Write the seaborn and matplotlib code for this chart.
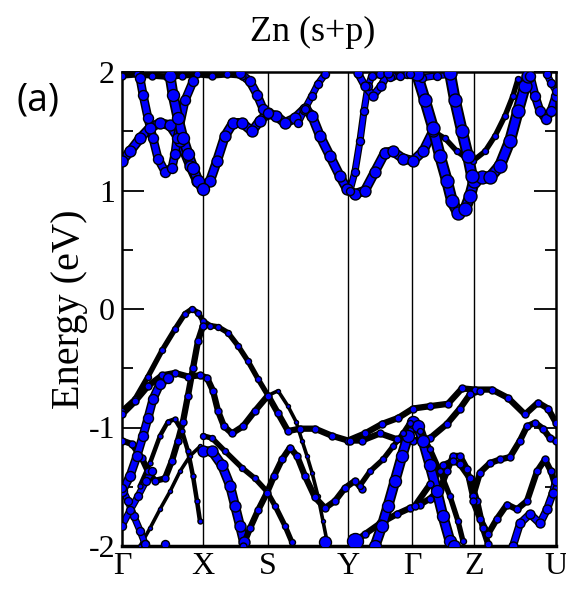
import numpy as np
import pandas as pd
import matplotlib
matplotlib.use("Agg")
import matplotlib.pyplot as plt
import seaborn as sns

# high-symmetry path
hs_k = [0.00, 0.81, 1.46, 2.26, 2.90, 3.52, 4.34]
hs_labels = ["Γ", "X", "S", "Y", "Γ", "Z", "U"]

# ---- conduction bands (k, E in eV) ----
cb1_k = [0.00, 0.08, 0.18, 0.28, 0.38, 0.48, 0.58, 0.68, 0.75, 0.81, 0.88, 0.95, 1.03, 1.11, 1.20, 1.30,
         1.38, 1.46, 1.54, 1.63, 1.73, 1.83, 1.90, 1.98, 2.08, 2.18, 2.25, 2.33, 2.43, 2.53, 2.63, 2.71,
         2.81, 2.91, 3.01, 3.11]
cb1_E = [1.25, 1.33, 1.44, 1.53, 1.57, 1.55, 1.42, 1.21, 1.08, 1.03, 1.08, 1.25, 1.46, 1.57, 1.57, 1.50,
         1.59, 1.65, 1.63, 1.57, 1.61, 1.69, 1.63, 1.46, 1.29, 1.12, 1.01, 0.97, 1.00, 1.16, 1.32, 1.33,
         1.27, 1.25, 1.33, 1.50]
cb1b_k = [3.11, 3.23, 3.35, 3.45, 3.51, 3.63, 3.73, 3.83, 3.91, 3.96]
cb1b_E = [1.50, 1.44, 1.33, 1.27, 1.25, 1.33, 1.46, 1.63, 1.80, 1.94]
cb2_k = [2.95, 3.03, 3.11, 3.18, 3.25, 3.30, 3.36, 3.43, 3.48, 3.52, 3.60, 3.68, 3.78, 3.88, 3.96, 4.03, 4.06]
cb2_E = [1.98, 1.76, 1.53, 1.29, 1.08, 0.91, 0.81, 0.84, 0.95, 1.08, 1.11, 1.11, 1.21, 1.42, 1.67, 1.88, 1.97]
cb3_k = [3.28, 3.33, 3.40, 3.46, 3.50]
cb3_E = [1.99, 1.76, 1.50, 1.29, 1.12]
cb4_k = [2.28, 2.33, 2.38, 2.42, 2.46, 2.50, 2.58, 2.68, 2.78, 2.88]
cb4_E = [1.00, 1.16, 1.42, 1.67, 1.88, 1.97, 1.98, 1.96, 1.97, 1.98]
cb5_k = [1.76, 1.83, 1.90, 1.96, 2.03]
cb5_E = [1.57, 1.69, 1.80, 1.90, 1.98]
cb6_k = [2.36, 2.43, 2.51, 2.59, 2.66]
cb6_E = [1.99, 1.88, 1.80, 1.88, 1.99]
cb7_k = [4.08, 4.13, 4.18, 4.24, 4.29, 4.34]
cb7_E = [1.97, 1.80, 1.67, 1.60, 1.67, 1.80]
cb7b_k = [4.25, 4.29, 4.34]
cb7b_E = [1.98, 1.91, 1.84]
cb8_k = [0.18, 0.21, 0.26, 0.31, 0.36, 0.43, 0.50, 0.53, 0.55, 0.63, 0.71]
cb8_E = [1.95, 1.81, 1.61, 1.44, 1.27, 1.16, 1.19, 1.31, 1.44, 1.76, 1.92]
cb9_k = [0.48, 0.51, 0.56, 0.61, 0.66, 0.71, 0.76, 0.81]
cb9_E = [1.97, 1.81, 1.61, 1.44, 1.31, 1.19, 1.08, 1.01]
cb10_k = [1.18, 1.28, 1.35, 1.41, 1.46]
cb10_E = [1.99, 1.92, 1.81, 1.69, 1.65]
top1_k = [0.00, 0.15, 0.30, 0.45, 0.60, 0.75, 0.90, 1.05, 1.20]
top1_E = [1.97, 1.98, 1.97, 1.96, 1.97, 1.98, 1.97, 1.98, 1.97]
top2_k = [2.70, 2.85, 3.00, 3.15, 3.30]
top2_E = [1.97, 1.98, 1.95, 1.97, 1.98]

# ---- valence bands ----
vb1_k = [0.00, 0.13, 0.26, 0.40, 0.53, 0.63, 0.70, 0.76, 0.81, 0.88, 0.96, 1.06, 1.16, 1.26, 1.36, 1.46]
vb1_E = [-0.86, -0.76, -0.57, -0.35, -0.17, -0.04, 0.00, -0.03, -0.10, -0.14, -0.15, -0.20, -0.31, -0.44,
         -0.59, -0.73]
vb1b_k = [1.46, 1.56, 1.66, 1.74, 1.80, 1.85, 1.90, 1.96, 2.01, 2.05]
vb1b_E = [-0.73, -0.69, -0.82, -0.95, -1.11, -1.24, -1.38, -1.58, -1.79, -1.96]
vb2_k = [0.00, 0.13, 0.26, 0.40, 0.53, 0.66, 0.78, 0.85, 0.91, 0.96, 1.02, 1.10, 1.21, 1.33, 1.46, 1.56,
         1.66, 1.78, 1.93, 2.10, 2.26, 2.43, 2.60, 2.76, 2.91, 3.08, 3.26, 3.40, 3.53, 3.70, 3.86, 4.03,
         4.16, 4.26, 4.34]
vb2_E = [-0.89, -0.78, -0.65, -0.56, -0.54, -0.57, -0.56, -0.58, -0.69, -0.86, -0.99, -1.05, -0.99, -0.86,
         -0.73, -0.88, -1.03, -1.01, -1.01, -1.07, -1.11, -1.05, -0.97, -0.92, -0.84, -0.82, -0.80, -0.67,
         -0.68, -0.68, -0.75, -0.89, -0.79, -0.84, -0.96]
vb3_k = [0.00, 0.10, 0.20, 0.26, 0.33, 0.43, 0.50, 0.56, 0.61, 0.66, 0.71, 0.76, 0.81]
vb3_E = [-1.11, -1.14, -1.26, -1.37, -1.45, -1.43, -1.28, -1.11, -0.95, -0.73, -0.50, -0.27, -0.14]
vb4_k = [2.28, 2.40, 2.58, 2.75, 2.91, 3.08, 3.25, 3.38, 3.48, 3.58]
vb4_E = [-1.11, -1.11, -1.05, -1.10, -1.11, -1.09, -0.97, -0.84, -0.72, -0.69]
vb5_k = [0.00, 0.08, 0.15, 0.21, 0.26, 0.31, 0.38, 0.46]
vb5_E = [-1.54, -1.41, -1.24, -1.07, -0.92, -0.76, -0.63, -0.58]
vb6_k = [0.18, 0.28, 0.38, 0.46, 0.53, 0.60, 0.66, 0.71, 0.75, 0.78]
vb6_E = [-1.49, -1.30, -1.07, -0.95, -0.93, -1.03, -1.20, -1.41, -1.62, -1.79]
vb7_k = [0.18, 0.28, 0.38, 0.48, 0.58, 0.68, 0.78]
vb7_E = [-2.00, -1.85, -1.69, -1.54, -1.37, -1.24, -1.16]
vb8_k = [0.00, 0.06, 0.12, 0.18, 0.23]
vb8_E = [-1.51, -1.62, -1.75, -1.87, -1.98]
vb9_k = [0.00, 0.08, 0.16, 0.24, 0.30]
vb9_E = [-1.83, -1.70, -1.58, -1.45, -1.37]
vb10_k = [0.81, 0.90, 1.03, 1.20, 1.33, 1.45, 1.53, 1.63, 1.70]
vb10_E = [-1.07, -1.09, -1.20, -1.34, -1.43, -1.54, -1.66, -1.83, -1.97]
vb11_k = [0.81, 0.90, 1.00, 1.08, 1.13, 1.18, 1.22]
vb11_E = [-1.20, -1.20, -1.32, -1.49, -1.66, -1.83, -1.97]
vb12_k = [1.21, 1.28, 1.36, 1.45, 1.52, 1.60, 1.68, 1.75, 1.83, 1.93, 2.03, 2.13, 2.23, 2.33, 2.40]
vb12_E = [-2.00, -1.85, -1.70, -1.55, -1.41, -1.27, -1.17, -1.24, -1.41, -1.59, -1.68, -1.62, -1.51,
          -1.45, -1.52]
vb13_k = [2.33, 2.43, 2.58, 2.75, 2.88, 2.98, 3.08, 3.18, 3.25, 3.31, 3.38, 3.45, 3.51]
vb13_E = [-1.96, -1.90, -1.81, -1.73, -1.68, -1.65, -1.60, -1.52, -1.37, -1.24, -1.24, -1.35, -1.58]
vb13b_k = [3.51, 3.58, 3.68, 3.78, 3.88, 3.98, 4.05, 4.13, 4.21, 4.28, 4.34]
vb13b_E = [-1.58, -1.38, -1.30, -1.27, -1.25, -1.11, -0.99, -0.96, -1.01, -1.09, -1.11]
vb14_k = [2.93, 3.08, 3.21, 3.31, 3.38, 3.48, 3.55, 3.61, 3.66]
vb14_E = [-1.66, -1.48, -1.32, -1.28, -1.31, -1.43, -1.62, -1.85, -1.98]
vb15_k = [2.53, 2.60, 2.66, 2.73, 2.80, 2.86, 2.91, 2.96, 3.01, 3.08, 3.15, 3.21, 3.28, 3.32]
vb15_E = [-2.00, -1.83, -1.66, -1.45, -1.24, -1.07, -0.95, -0.99, -1.11, -1.32, -1.54, -1.75, -1.96, -2.00]
vb16_k = [2.38, 2.48, 2.61, 2.71, 2.81, 2.88, 2.98, 3.08, 3.18, 3.28, 3.36, 3.41]
vb16_E = [-1.49, -1.37, -1.27, -1.16, -1.05, -0.96, -1.03, -1.18, -1.37, -1.58, -1.79, -1.96]
vb17_k = [3.51, 3.58, 3.66, 3.75, 3.85, 3.95, 4.05, 4.15, 4.23, 4.29, 4.34]
vb17_E = [-1.62, -1.77, -1.90, -1.77, -1.65, -1.69, -1.62, -1.37, -1.27, -1.37, -1.51]
vb18_k = [3.91, 3.98, 4.08, 4.18, 4.25, 4.31, 4.34]
vb18_E = [-2.00, -1.81, -1.73, -1.81, -1.69, -1.55, -1.45]

# Zn (s+p) projection weight per band (marker diameter, px)
bands = [
    (top1_k, top1_E, 7), (top2_k, top2_E, 8),
    (cb1_k, cb1_E, 11), (cb1b_k, cb1b_E, 6), (cb2_k, cb2_E, 13), (cb3_k, cb3_E, 13),
    (cb4_k, cb4_E, 8), (cb5_k, cb5_E, 8), (cb6_k, cb6_E, 9), (cb7_k, cb7_E, 10),
    (cb7b_k, cb7b_E, 8), (cb8_k, cb8_E, 10), (cb9_k, cb9_E, 12), (cb10_k, cb10_E, 10),
    (vb1_k, vb1_E, 6), (vb1b_k, vb1b_E, 4), (vb2_k, vb2_E, 7), (vb3_k, vb3_E, 7),
    (vb4_k, vb4_E, 7), (vb5_k, vb5_E, 10), (vb6_k, vb6_E, 5), (vb7_k, vb7_E, 4),
    (vb8_k, vb8_E, 8), (vb9_k, vb9_E, 8), (vb10_k, vb10_E, 6), (vb11_k, vb11_E, 11),
    (vb12_k, vb12_E, 7), (vb13_k, vb13_E, 7), (vb13b_k, vb13b_E, 7), (vb14_k, vb14_E, 7),
    (vb15_k, vb15_E, 12), (vb16_k, vb16_E, 6), (vb17_k, vb17_E, 7), (vb18_k, vb18_E, 9),
]

blob_k = [2.03, 2.33, 0.23, 0.43]
blob_E = [-1.97, -1.96, -1.98, -1.98]
blob_w = [12, 16, 8, 8]

sns.set_theme(style="ticks")
plt.rcParams['font.family'] = ['Liberation Serif', 'DejaVu Serif']
for key in ["text.color", "axes.labelcolor", "xtick.color", "ytick.color", "axes.edgecolor"]:
    plt.rcParams[key] = "black"

fig = plt.figure(figsize=(5.66, 5.90), dpi=100)
ax = fig.add_axes([122 / 566, 44 / 590, 434 / 566, 474 / 590])

PX = 0.72  # points per pixel at 100 dpi
BLUE = "#0000ff"

for k, E, w in bands:
    d = w * PX
    ax.plot(k, E, color="black", lw=d * 0.9, solid_capstyle="round",
            solid_joinstyle="round", zorder=2)
    if w >= 8:
        ax.plot(k, E, color=BLUE, lw=d * 0.6, solid_capstyle="round",
                solid_joinstyle="round", zorder=2)
    df = pd.DataFrame({"k": k, "E": E})
    sns.scatterplot(data=df, x="k", y="E", ax=ax, s=d ** 2, color=BLUE,
                    edgecolor="black", linewidth=1.0, zorder=3, legend=False)

dfb = pd.DataFrame({"k": blob_k, "E": blob_E, "w": blob_w})
for _, r in dfb.iterrows():
    ax.scatter(r.k, r.E, s=(r.w * PX) ** 2, color=BLUE, edgecolor="black",
               linewidth=1.0, zorder=3)

for x in hs_k[1:-1]:
    ax.axvline(x, color="black", lw=1.0, zorder=1)

ax.set_xlim(hs_k[0], hs_k[-1])
ax.set_ylim(-2, 2)
ax.set_xticks(hs_k)
ax.set_xticklabels(hs_labels, fontsize=23)
ax.set_yticks([-2, -1, 0, 1, 2])
ax.set_yticklabels(["-2", "-1", "0", "1", "2"], fontsize=23)
ax.set_yticks(np.arange(-1.5, 2, 1.0), minor=True)
ax.tick_params(axis="y", which="major", direction="in", length=16, width=1.3,
               left=True, right=True, pad=5)
ax.tick_params(axis="y", which="minor", direction="in", length=8, width=1.3,
               left=True, right=True)
ax.tick_params(axis="x", length=0, pad=4)
ax.set_xlabel("")
ax.set_ylabel("Energy (eV)", fontsize=29, labelpad=0)
for s in ax.spines.values():
    s.set_linewidth(1.8)
ax.spines["bottom"].set_linewidth(2.5)

fig.text(313 / 566, 1 - 32 / 590, "Zn (s+p)", fontsize=26, ha="center", va="center")
fig.text(38 / 566, 1 - 100 / 590, "(a)", fontsize=27, ha="center", va="center",
         family="Open Sans")

fig.savefig("out.png", dpi=100)
